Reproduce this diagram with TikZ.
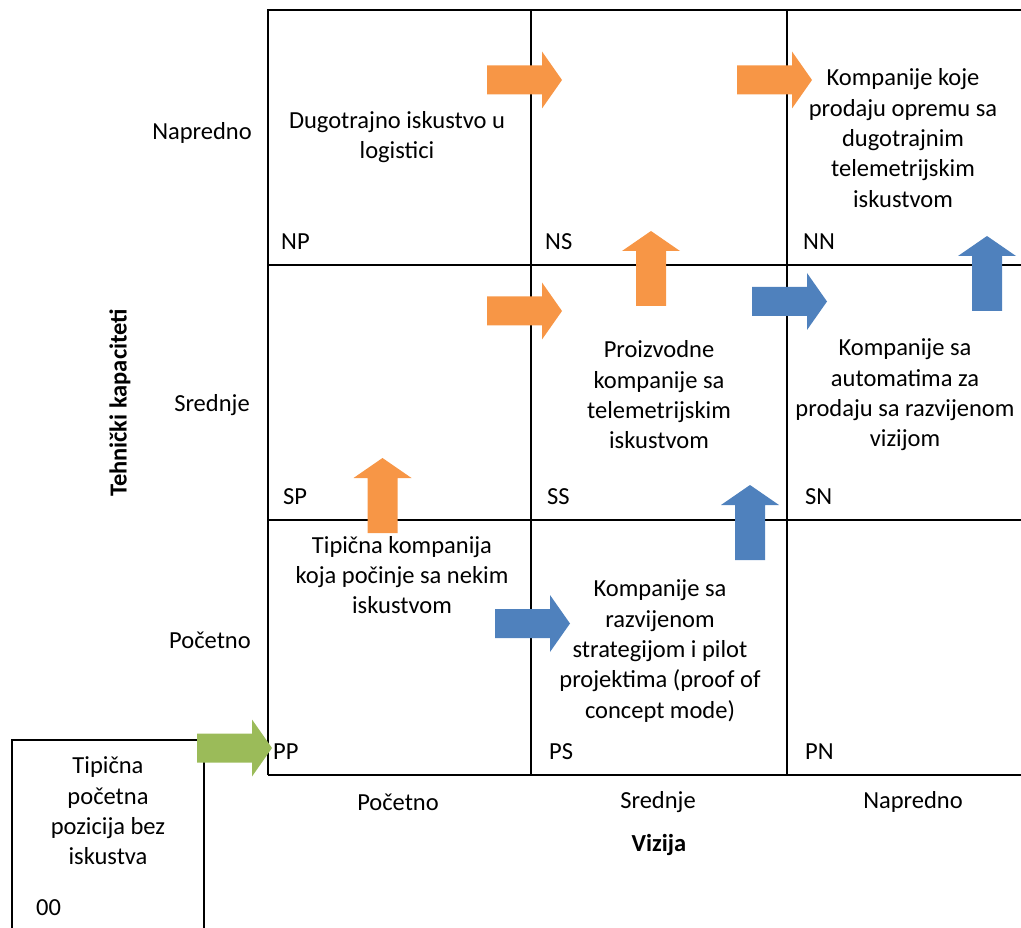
\documentclass[tikz,border=0pt]{standalone}
\usepackage{fontspec}
\setmainfont{Carlito}
\definecolor{aorange}{HTML}{F79646}
\definecolor{ablue}{HTML}{4F81BD}
\definecolor{agreen}{HTML}{9BBB59}
\begin{document}
\begin{tikzpicture}[x=1pt,y=-1pt,
  gridline/.style={line width=1.6pt,black},
  txt/.style={align=center,inner sep=0pt,font=\fontsize{24.5}{30.3}\selectfont},
  lbl/.style={anchor=west,inner sep=0pt,font=\fontsize{24.5}{30}\selectfont},
  bold/.style={inner sep=0pt,font=\fontsize{24.5}{30}\selectfont\bfseries},
  rarrow/.pic={\fill[pic actions] (0,-14.5) -- (55,-14.5) -- (55,-28.5) -- (75,0) -- (55,28.5) -- (55,14.5) -- (0,14.5) -- cycle;},
  uarrow/.pic={\fill[pic actions] (-15,75) -- (-15,20) -- (-29,20) -- (0,0) -- (29,20) -- (15,20) -- (15,75) -- cycle;}
]
\useasboundingbox (0,0) rectangle (1021,928);
% grid
\draw[gridline] (268,775) -- (268,10) -- (1021,10);
\draw[gridline] (268,265) -- (1021,265);
\draw[gridline] (268,520) -- (1021,520);
\draw[gridline] (268,775) -- (1021,775);
\draw[gridline] (531,10) -- (531,775);
\draw[gridline] (787,10) -- (787,775);
% start box
\draw[gridline] (12,928) -- (12,740) -- (204,740) -- (204,928);
% row labels
\node[txt] (rN) at (202,133) {Napredno};
\node[txt] (rS) at (212,405) {Srednje};
\node[txt] (rP) at (210,640) {Početno};
\node[bold,rotate=90] (ry) at (120,403) {Tehnički kapaciteti};
% column labels
\node[txt] (cP) at (398,802) {Početno};
\node[txt] (cS) at (658,802) {Srednje};
\node[txt] (cN) at (913,802) {Napredno};
\node[bold] (cx) at (659,845) {Vizija};
% cell codes
\node[lbl] (NP) at (281,242) {NP};
\node[lbl] (NS) at (545,242) {NS};
\node[lbl] (NN) at (803,242) {NN};
\node[lbl] (SP) at (283,497) {SP};
\node[lbl] (SS) at (547,497) {SS};
\node[lbl] (SN) at (805,497) {SN};
\node[lbl] (PP) at (273,752) {PP};
\node[lbl] (PS) at (549,752) {PS};
\node[lbl] (PN) at (805,752) {PN};
\node[lbl] (OO) at (36,908) {00};
% cell texts
\node[txt] (tNP) at (397,137) {Dugotrajno iskustvo u\\logistici};
\node[txt] (tNN) at (903,138) {Kompanije koje\\prodaju opremu sa\\dugotrajnim\\telemetrijskim\\iskustvom};
\node[txt] (tSS) at (659,395) {Proizvodne\\kompanije sa\\telemetrijskim\\iskustvom};
\node[txt] (tSN) at (905,395) {Kompanije sa\\automatima za\\prodaju sa razvijenom\\vizijom};
\node[txt] (tPP) at (402,575) {Tipična kompanija\\koja počinje sa nekim\\iskustvom};
\node[txt] (tPS) at (660,651) {Kompanije sa\\razvijenom\\strategijom i pilot\\projektima (proof of\\concept mode)};
\node[txt] (t00) at (108,811) {Tipična\\početna\\pozicija bez\\iskustva};
% arrows
\pic[fill=aorange] at (487,80) {rarrow};
\pic[fill=aorange] at (737,80) {rarrow};
\pic[fill=aorange] at (487,311) {rarrow};
\pic[fill=ablue] at (752,301.5) {rarrow};
\pic[fill=ablue] at (495,623.5) {rarrow};
\pic[fill=agreen] at (197,748) {rarrow};
\pic[fill=aorange] at (382.5,458) {uarrow};
\pic[fill=aorange] at (651,231) {uarrow};
\pic[fill=ablue] at (750,485) {uarrow};
\pic[fill=ablue] at (987,236) {uarrow};
\end{tikzpicture}
\end{document}
